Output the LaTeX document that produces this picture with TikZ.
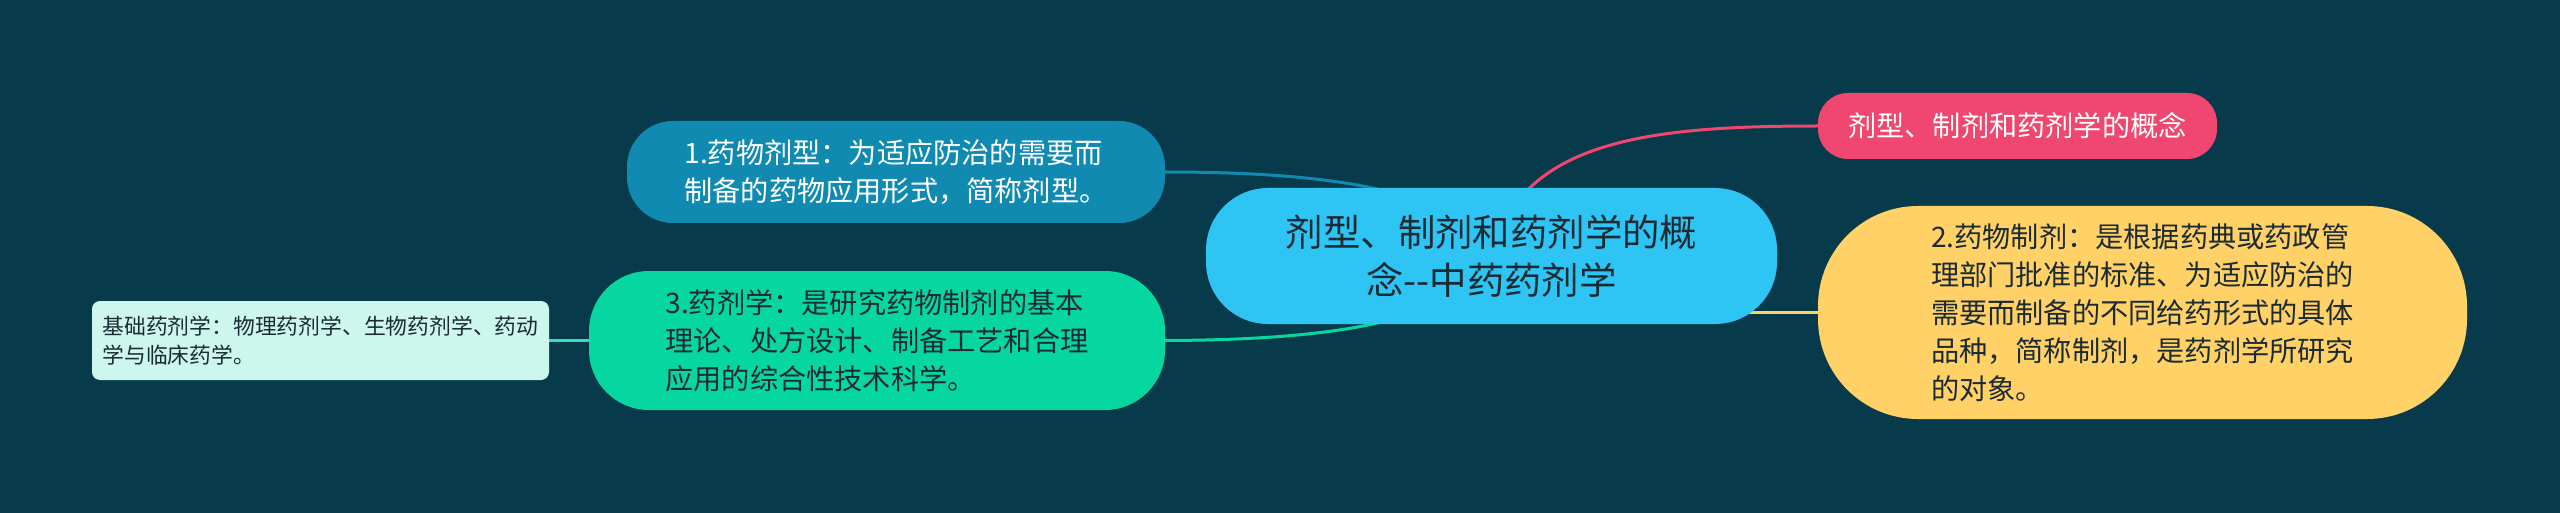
\documentclass[tikz,border=0pt]{standalone}
\usepackage{fontspec}
\newfontfamily\cjk{Noto Sans CJK SC}
\usetikzlibrary{backgrounds}
\definecolor{bgcol}{HTML}{073B4C}
\definecolor{skycol}{HTML}{2EC4F4}
\definecolor{bluecol}{HTML}{118AB2}
\definecolor{greencol}{HTML}{06D6A0}
\definecolor{pinkcol}{HTML}{EF476F}
\definecolor{yellowcol}{HTML}{FFD166}
\definecolor{leafcol}{HTML}{CDF7EC}
\definecolor{inkcol}{HTML}{1B2B34}
\begin{document}
\begin{tikzpicture}[x=1pt,y=-1pt,
    box/.style={inner sep=0pt,outer sep=0pt,text=inkcol,
        font=\cjk\fontsize{28.2}{38}\selectfont},
    link/.style={line width=3pt,line cap=round}]
    \useasboundingbox (0,0) rectangle (2560,513);
    % main topic
    \node[box,fill=skycol,rounded corners=62pt,minimum width=571pt,minimum height=136pt,
        align=center,font=\cjk\fontsize{37.4}{48}\selectfont] (c) at (1491.5,256)
        {剂型、制剂和药剂学的概\\念--中药药剂学};
    % right side
    \node[box,fill=pinkcol,text=white,rounded corners=30pt,minimum width=399pt,minimum height=66pt]
        (title) at (2017.5,126) {剂型、制剂和药剂学的概念};
    \node[box,fill=yellowcol,rounded corners=100pt,minimum width=649pt,minimum height=213pt,
        align=left] (prep) at (2142.5,312.5)
        {2.药物制剂：是根据药典或药政管\\理部门批准的标准、为适应防治的\\需要而制备的不同给药形式的具体\\品种，简称制剂，是药剂学所研究\\的对象。};
    % left side
    \node[box,fill=bluecol,text=white,rounded corners=46pt,minimum width=538pt,minimum height=102pt,
        align=left] (form) at (896,172)
        {1.药物剂型：为适应防治的需要而\\制备的药物应用形式，简称剂型。};
    \node[box,fill=greencol,rounded corners=60pt,minimum width=576pt,minimum height=139pt,
        align=left] (pharm) at (877,340.5)
        {3.药剂学：是研究药物制剂的基本\\理论、处方设计、制备工艺和合理\\应用的综合性技术科学。};
    \node[box,fill=leafcol,rounded corners=8pt,minimum width=457pt,minimum height=79pt,
        align=left,font=\cjk\fontsize{21.8}{29}\selectfont] (basic) at (320.5,340.5)
        {基础药剂学：物理药剂学、生物药剂学、药动\\学与临床药学。};
    \begin{scope}[on background layer]
        \fill[bgcol] (0,0) rectangle (2560,513);
        \draw[link,pinkcol] (c.center) .. controls (1520,140) and (1650,126) .. (title.west);
        \draw[link,bluecol] (form.east) .. controls (1330,172) and (1460,190) .. (c.center);
        \draw[link,greencol] (pharm.east) .. controls (1330,340) and (1460,322) .. (c.center);
        \draw[link,yellowcol,line width=3.5pt] (c.center |- prep.west) -- (prep.west);
        \draw[link,greencol!80!white] (basic.east) -- (pharm.west);
    \end{scope}
\end{tikzpicture}
\end{document}
